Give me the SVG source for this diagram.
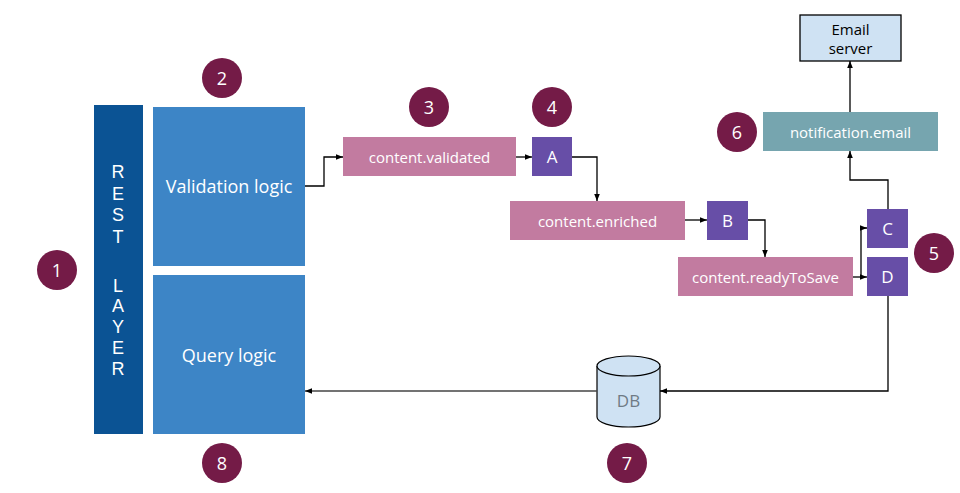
<svg xmlns="http://www.w3.org/2000/svg" width="960" height="493" viewBox="0 0 960 493">
<style>
.num{fill:#741b47}
.numt{fill:#fff;font-family:"Open Sans","Noto Sans",sans-serif;font-size:18px;text-anchor:middle;dominant-baseline:central}
.topic{fill:#c27ba0}
.proc{fill:#674ea7}
.lbl{fill:#fff;font-family:"Open Sans","Noto Sans",sans-serif;font-size:15px;text-anchor:middle;dominant-baseline:central}
.big{fill:#fff;font-family:"Open Sans","Noto Sans",sans-serif;font-size:18px;text-anchor:middle;dominant-baseline:central}
.mid{fill:#fff;font-family:"Open Sans","Noto Sans",sans-serif;font-size:17px;text-anchor:middle;dominant-baseline:central}
.rest{fill:#fff;font-family:"Liberation Sans",Arial,sans-serif;font-size:18px;text-anchor:middle;dominant-baseline:central}
.es{fill:#000;font-family:"Open Sans","Noto Sans",sans-serif;font-size:15px;text-anchor:middle}
.con{fill:none;stroke:#000;stroke-width:1.3;marker-end:url(#ah)}
</style>
<defs>
<marker id="ah" viewBox="0 0 10 10" refX="10" refY="5" markerWidth="7" markerHeight="7" markerUnits="userSpaceOnUse" orient="auto">
<path d="M0,1 L10,5 L0,9 z" fill="#000"/>
</marker>
</defs>
<rect width="960" height="493" fill="#fff"/>
<g id="rest-layer">
<rect x="94" y="105" width="49" height="329" fill="#0b5394"/>
<text class="rest" x="118" y="172">R</text>
<text class="rest" x="118" y="194">E</text>
<text class="rest" x="118" y="215">S</text>
<text class="rest" x="118" y="237">T</text>
<text class="rest" x="118" y="286">L</text>
<text class="rest" x="118" y="306">A</text>
<text class="rest" x="118" y="327">Y</text>
<text class="rest" x="118" y="348">E</text>
<text class="rest" x="118" y="369">R</text>
</g>
<g id="validation-logic">
<rect x="153" y="107" width="152" height="159" fill="#3d85c6"/>
<text class="big" x="229" y="186">Validation logic</text>
</g>
<g id="query-logic">
<rect x="153" y="275" width="152" height="159" fill="#3d85c6"/>
<text class="big" x="229" y="355">Query logic</text>
</g>
<g id="content-validated">
<rect class="topic" x="343" y="137" width="173" height="39"/>
<text class="lbl" x="429.5" y="156.5">content.validated</text>
</g>
<g id="A">
<rect class="proc" x="532" y="137" width="40" height="39"/>
<text class="mid" x="552" y="156.5">A</text>
</g>
<g id="content-enriched">
<rect class="topic" x="510" y="201" width="175" height="39"/>
<text class="lbl" x="597.5" y="220.5">content.enriched</text>
</g>
<g id="B">
<rect class="proc" x="707" y="201" width="41" height="39"/>
<text class="mid" x="727.5" y="220.5">B</text>
</g>
<g id="content-readyToSave">
<rect class="topic" x="678" y="257" width="175" height="39"/>
<text class="lbl" x="765.5" y="276.5">content.readyToSave</text>
</g>
<g id="C">
<rect class="proc" x="867" y="209" width="41" height="39"/>
<text class="mid" x="887.5" y="228.5">C</text>
</g>
<g id="D">
<rect class="proc" x="867" y="257" width="41" height="39"/>
<text class="mid" x="887.5" y="276.5">D</text>
</g>
<g id="notification-email">
<rect x="763" y="112" width="175" height="39" fill="#76a5af"/>
<text class="lbl" x="850.5" y="131.5">notification.email</text>
</g>
<g id="email-server">
<rect x="800" y="15" width="101" height="46" fill="#cfe2f3" stroke="#000" stroke-width="1.3"/>
<text class="es" x="850.5" y="35">Email</text>
<text class="es" x="850.5" y="54">server</text>
</g>
<g id="db">
<path d="M597,366 L597,417 A31.5,10 0 0 0 660,417 L660,366" fill="#cfe2f3" stroke="#000" stroke-width="1.2"/>
<ellipse cx="628.5" cy="366" rx="31.5" ry="10" fill="#cfe2f3" stroke="#000" stroke-width="1.2"/>
<text x="628.5" y="400" font-family="Open Sans, Noto Sans, sans-serif" font-size="17" fill="#6f7b85" text-anchor="middle" dominant-baseline="central">DB</text>
</g>
<g id="connectors">
<polyline class="con" points="305,186 324,186 324,157 343,157"/>
<polyline class="con" points="516,157 532,157"/>
<polyline class="con" points="572,157 597,157 597,201"/>
<polyline class="con" points="685,220 707,220"/>
<polyline class="con" points="748,220 765,220 765,257"/>
<polyline class="con" points="853,277 867,277"/>
<polyline class="con" points="861,277 861,228 867,228"/>
<polyline class="con" points="888,209 888,180 850,180 850,151"/>
<polyline class="con" points="850,112 850,61"/>
<polyline class="con" points="888,296 888,391 660,391"/>
<polyline class="con" points="597,391 305,391" style="stroke:#444"/>
</g>
<g id="markers">
<circle class="num" cx="57" cy="270" r="20"/><text class="numt" x="57" y="270">1</text>
<circle class="num" cx="222" cy="78" r="20"/><text class="numt" x="222" y="78">2</text>
<circle class="num" cx="429" cy="107" r="20"/><text class="numt" x="429" y="107">3</text>
<circle class="num" cx="552" cy="107" r="20"/><text class="numt" x="552" y="107">4</text>
<circle class="num" cx="934" cy="253" r="20"/><text class="numt" x="934" y="253">5</text>
<circle class="num" cx="737" cy="132" r="20"/><text class="numt" x="737" y="132">6</text>
<circle class="num" cx="627" cy="463" r="20"/><text class="numt" x="627" y="463">7</text>
<circle class="num" cx="222" cy="463" r="20"/><text class="numt" x="222" y="463">8</text>
</g>
</svg>
